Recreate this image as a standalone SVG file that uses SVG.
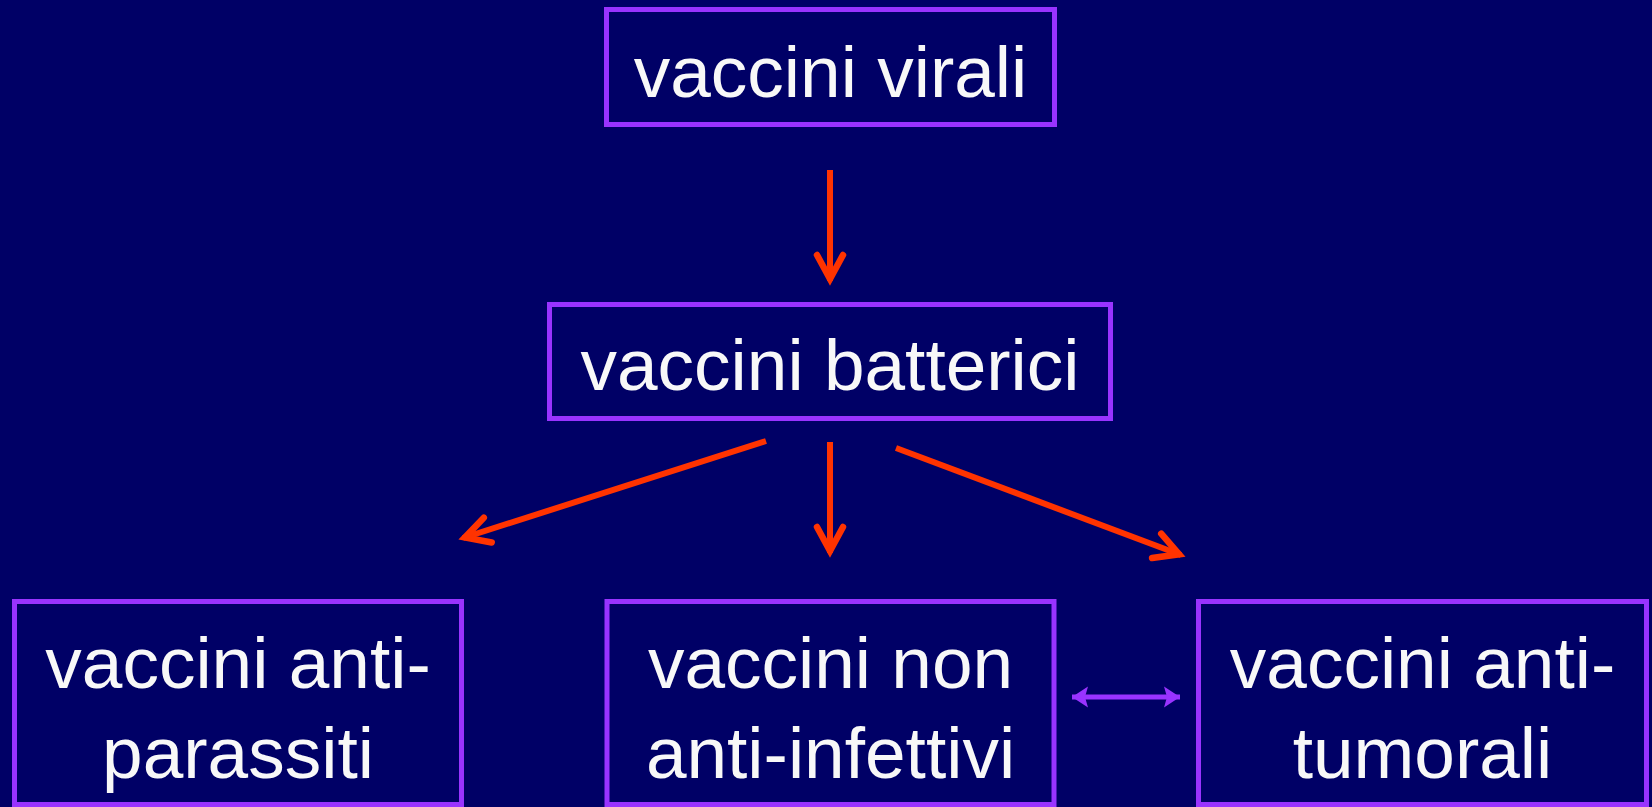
<svg xmlns="http://www.w3.org/2000/svg" width="1652" height="807" viewBox="0 0 1652 807">
<style>
.box{fill:#000066;stroke:#9933FF;stroke-width:5}
.lbl{font-family:"Liberation Sans",Arial,sans-serif;font-size:73px;fill:#F8F8F8;text-anchor:middle}
.red{stroke:#FF3300;stroke-width:6;fill:none}
.pur{stroke:#9933FF;stroke-width:5;fill:none}
</style>
<defs>
<marker id="redhead" markerUnits="userSpaceOnUse" viewBox="-40 -20 50 40" markerWidth="50" markerHeight="40" refX="0" refY="0" orient="auto">
<path d="M-26,-13 L-2,0 L-26,13" fill="none" stroke="#FF3300" stroke-width="6.5" stroke-linejoin="miter" stroke-linecap="round"/>
</marker>
<marker id="purhead" markerUnits="userSpaceOnUse" viewBox="-24 -14 28 28" markerWidth="28" markerHeight="28" refX="0" refY="0" orient="auto-start-reverse">
<path d="M0,0 L-16,-10.5 L-13,0 L-16,10.5 Z" fill="#9933FF"/>
</marker>
</defs>
<rect x="0" y="0" width="1652" height="807" fill="#000066"/>
<g id="connectors">
<line class="red" x1="830" y1="170" x2="830" y2="281" marker-end="url(#redhead)"/>
<line class="red" x1="766" y1="441" x2="463" y2="538" marker-end="url(#redhead)"/>
<line class="red" x1="830" y1="442" x2="830" y2="553" marker-end="url(#redhead)"/>
<line class="red" x1="896" y1="448" x2="1181" y2="555" marker-end="url(#redhead)"/>
<line class="pur" x1="1072" y1="697" x2="1180" y2="697" marker-start="url(#purhead)" marker-end="url(#purhead)"/>
</g>
<g id="virali">
<rect class="box" x="606.5" y="9.5" width="448" height="115"/>
<text class="lbl" x="830.5" y="97">vaccini virali</text>
</g>
<g id="batterici">
<rect class="box" x="549.5" y="304.5" width="561" height="114"/>
<text class="lbl" x="830" y="390">vaccini batterici</text>
</g>
<g id="antiparassiti">
<rect class="box" x="14.5" y="601.5" width="447" height="203"/>
<text class="lbl" x="238" y="688">vaccini anti-</text>
<text class="lbl" x="238" y="778">parassiti</text>
</g>
<g id="noninfettivi">
<rect class="box" x="607" y="601.5" width="447" height="203"/>
<text class="lbl" x="830.5" y="688">vaccini non</text>
<text class="lbl" x="830.5" y="778">anti-infettivi</text>
</g>
<g id="antitumorali">
<rect class="box" x="1198.5" y="601.5" width="448" height="203"/>
<text class="lbl" x="1422.5" y="688">vaccini anti-</text>
<text class="lbl" x="1422.5" y="778">tumorali</text>
</g>
</svg>
